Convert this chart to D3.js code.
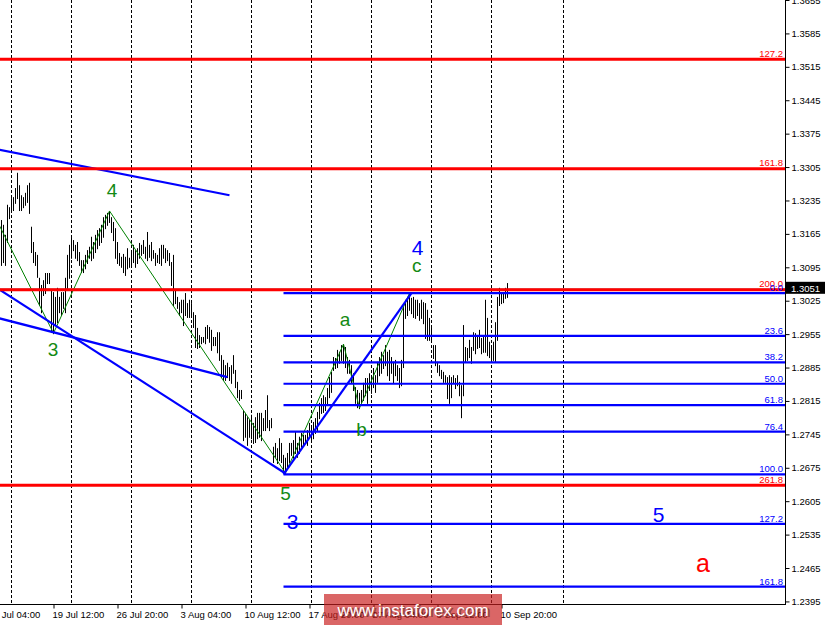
<!DOCTYPE html>
<html><head><meta charset="utf-8">
<script src="https://cdn.jsdelivr.net/npm/d3@7"></script>
<style>html,body{margin:0;padding:0;background:#fff;overflow:hidden}</style>
</head><body>
<svg id="chart" width="825" height="625"></svg>
<script>
// ---------- DATA ----------
const firstBar = -5; // bar index of first entry (bar 0 = Mon 16 Jul 00:00, H4)
const highs = [
1.3194,1.3184,1.3163,1.3226,1.3221,1.3240,1.3242,1.3261,1.3293,1.3267,
1.3246,1.3242,1.3251,1.3267,1.3272,1.3180,1.3148,1.3127,1.3121,1.3073,
1.3058,1.3068,1.3083,1.3083,1.3083,1.3047,1.3043,1.3033,1.3052,1.3033,
1.3043,1.3043,1.3073,1.3121,1.3142,1.3159,1.3152,1.3142,1.3148,1.3127,
1.3110,1.3110,1.3121,1.3131,1.3138,1.3159,1.3148,1.3163,1.3173,1.3177,
1.3184,1.3200,1.3205,1.3209,1.3213,1.3200,1.3190,1.3177,1.3148,1.3125,
1.3117,1.3123,1.3117,1.3135,1.3115,1.3127,1.3142,1.3131,1.3135,1.3146,
1.3142,1.3152,1.3138,1.3169,1.3142,1.3148,1.3131,1.3125,1.3121,1.3135,
1.3142,1.3142,1.3135,1.3131,1.3125,1.3106,1.3121,1.3047,1.3033,1.3022,
1.3027,1.3027,1.3041,1.3020,1.3027,1.3020,1.3001,1.2995,1.2968,1.2953,
1.2949,1.2949,1.2970,1.2974,1.2970,1.2964,1.2949,1.2949,1.2959,1.2959,
1.2911,1.2901,1.2890,1.2895,1.2886,1.2890,1.2911,1.2880,1.2855,1.2838,
1.2838,1.2796,1.2790,1.2781,1.2775,1.2786,1.2769,1.2781,1.2790,1.2790,
1.2790,1.2779,1.2796,1.2827,1.2775,1.2779,1.2719,1.2727,1.2716,1.2737,
1.2727,1.2702,1.2696,1.2706,1.2727,1.2727,1.2733,1.2750,1.2727,1.2740,
1.2748,1.2744,1.2744,1.2754,1.2769,1.2760,1.2771,1.2779,1.2792,1.2811,
1.2821,1.2827,1.2823,1.2842,1.2865,1.2876,1.2907,1.2905,1.2922,1.2918,
1.2932,1.2934,1.2928,1.2907,1.2901,1.2890,1.2873,1.2844,1.2838,1.2832,
1.2838,1.2853,1.2863,1.2863,1.2873,1.2869,1.2884,1.2869,1.2897,1.2907,
1.2918,1.2911,1.2932,1.2918,1.2922,1.2907,1.2897,1.2901,1.2890,1.2884,
1.2901,1.3012,1.3027,1.3033,1.3041,1.3031,1.3033,1.3027,1.3027,1.3020,
1.3027,1.3022,1.3020,1.3006,1.2989,1.2974,1.2932,1.2932,1.2897,1.2890,
1.2880,1.2876,1.2869,1.2865,1.2869,1.2865,1.2869,1.2863,1.2869,1.2855,
1.2848,1.2974,1.2928,1.2926,1.2943,1.2928,1.2959,1.2957,1.2949,1.2964,
1.2947,1.2949,1.3027,1.2989,1.2939,1.2932,1.2939,1.2980,1.3033,1.3052,
1.3041,1.3043,1.3052,1.3062
];
const lows = [
1.3100,1.3106,1.3100,1.3148,1.3198,1.3211,1.3215,1.3230,1.3240,1.3215,
1.3215,1.3221,1.3226,1.3232,1.3209,1.3127,1.3106,1.3100,1.3075,1.3016,
1.3001,1.3037,1.3041,1.3062,1.3062,1.2960,1.2957,1.2974,1.2980,1.3001,
1.2995,1.3010,1.3001,1.3052,1.3073,1.3115,1.3131,1.3115,1.3110,1.3100,
1.3085,1.3085,1.3093,1.3104,1.3115,1.3110,1.3115,1.3127,1.3135,1.3142,
1.3148,1.3159,1.3177,1.3184,1.3190,1.3169,1.3152,1.3115,1.3104,1.3100,
1.3096,1.3085,1.3079,1.3093,1.3096,1.3100,1.3106,1.3096,1.3104,1.3115,
1.3121,1.3125,1.3115,1.3110,1.3117,1.3110,1.3115,1.3100,1.3106,1.3104,
1.3100,1.3115,1.3106,1.3110,1.3100,1.3058,1.3016,1.3020,1.3010,1.2995,
1.3001,1.2974,1.2995,1.2991,1.2991,1.2991,1.2970,1.2928,1.2926,1.2928,
1.2936,1.2939,1.2936,1.2947,1.2939,1.2922,1.2932,1.2932,1.2917,1.2901,
1.2865,1.2859,1.2859,1.2865,1.2859,1.2853,1.2874,1.2844,1.2823,1.2817,
1.2821,1.2733,1.2740,1.2723,1.2740,1.2737,1.2727,1.2729,1.2737,1.2740,
1.2733,1.2754,1.2754,1.2760,1.2754,1.2760,1.2687,1.2698,1.2685,1.2691,
1.2687,1.2670,1.2664,1.2675,1.2687,1.2702,1.2696,1.2706,1.2698,1.2706,
1.2719,1.2723,1.2727,1.2723,1.2740,1.2729,1.2737,1.2748,1.2754,1.2779,
1.2790,1.2792,1.2796,1.2807,1.2823,1.2834,1.2880,1.2884,1.2886,1.2895,
1.2901,1.2895,1.2886,1.2874,1.2874,1.2853,1.2838,1.2811,1.2802,1.2800,
1.2807,1.2817,1.2827,1.2811,1.2838,1.2832,1.2844,1.2834,1.2855,1.2869,
1.2874,1.2884,1.2890,1.2869,1.2859,1.2874,1.2853,1.2869,1.2859,1.2844,
1.2848,1.2886,1.2989,1.2995,1.3006,1.2999,1.2991,1.2989,1.2995,1.2985,
1.2989,1.2978,1.2947,1.2943,1.2943,1.2939,1.2905,1.2890,1.2876,1.2869,
1.2863,1.2855,1.2855,1.2821,1.2811,1.2823,1.2853,1.2842,1.2848,1.2827,
1.2781,1.2827,1.2897,1.2901,1.2907,1.2895,1.2922,1.2915,1.2926,1.2928,
1.2915,1.2918,1.2918,1.2911,1.2907,1.2901,1.2901,1.2897,1.2943,1.3016,
1.3020,1.3022,1.3031,1.3033
];
const lastPrice = 1.3051;

const priceTicks = [1.2395,1.2465,1.2535,1.2605,1.2675,1.2745,1.2815,1.2885,1.2955,1.3025,
  1.3095,1.3165,1.3235,1.3305,1.3375,1.3445,1.3515,1.3585,1.3655];
const timeLabels = ["12 Jul 04:00","19 Jul 12:00","26 Jul 20:00","3 Aug 04:00","10 Aug 12:00",
  "17 Aug 20:00","27 Aug 04:00","3 Sep 12:00","10 Sep 20:00"];
const timeLabelBars = [-11,21,53,85,117,149,181,213,245];
const weekSeparatorBars = [0,30,60,90,120,150,180,210,240,276];

const blueFibLevels = [0.0,23.6,38.2,50.0,61.8,76.4,100.0,127.2,161.8];
const blueFibHigh = 1.3041, blueFibLow = 1.2661, blueFibStartBar = 136;
const redFibLevels = [127.2,161.8,200.0,261.8];
const redFibZero = 1.4374, redFibHundred = 1.3711;

const trendStartBars = [-6,-6,-6,136];
const trendEndBars = [109,137,108,200];
const trendStartPrices = [1.3341,1.3048,1.2988,1.2661];
const trendEndPrices = [1.3246,1.2663,1.2865,1.3041];

const zigzagBars = [-6,21,49,137,166,174,199];
const zigzagPrices = [1.3182,1.2957,1.3213,1.2664,1.2934,1.2800,1.3041];

const waveText  = ["4","3","5","a","b","c","4","3","5","a"];
const waveBars  = [50.25,20.75,137,166.75,175,202.6,203.1,140.5,323.5,345.75];
const wavePrices= [1.3242,1.2909,1.2607,1.2971,1.2742,1.3086,1.3121,1.2546,1.2562,1.2457];
const waveColors= ["#138a13","#138a13","#138a13","#138a13","#138a13","#138a13","#0000ff","#0000ff","#0000ff","#ff0000"];
const waveSizes = [19,19,19,19,19,19,21,21,21,25];

// ---------- CHART ----------
const W = 825, H = 625, plotR = 785, plotB = 604;
const svg = d3.select("#chart");
const x = d3.scaleLinear().domain([0,240]).range([11.5,491.5]);
const y = d3.scaleLinear().domain([1.23896,1.3655]).range([plotB,0]);
const font = "'Liberation Sans', Arial, sans-serif";

svg.append("rect").attr("width",W).attr("height",H).attr("fill","#fff");

const plot = svg.append("g");
plot.append("clipPath").attr("id","clip").append("rect").attr("x",0).attr("y",0).attr("width",plotR).attr("height",plotB);
const g = plot.append("g").attr("clip-path","url(#clip)");

// week separators
g.selectAll(".sep").data(weekSeparatorBars).join("line")
  .attr("x1",d=>Math.floor(x(d))+0.5).attr("x2",d=>Math.floor(x(d))+0.5)
  .attr("y1",0).attr("y2",plotB)
  .attr("stroke","#000").attr("stroke-width",1).attr("stroke-dasharray","3,2");

// current price line
g.append("line").attr("x1",0).attr("x2",plotR)
  .attr("y1",Math.round(y(lastPrice))+0.5).attr("y2",Math.round(y(lastPrice))+0.5)
  .attr("stroke","#c0c0c0").attr("stroke-width",1);

// bars
const bars = highs.map((h,k)=>({i:firstBar+k,h:h,l:lows[k]}));
g.selectAll(".bar").data(bars).join("line")
  .attr("x1",d=>x(d.i)).attr("x2",d=>x(d.i))
  .attr("y1",d=>y(d.h)).attr("y2",d=>y(d.l)+1)
  .attr("stroke","#000").attr("stroke-width",1);

// green zigzag
g.append("path")
  .attr("d",d3.line().x(d=>x(d[0])).y(d=>y(d[1]))(zigzagBars.map((b,k)=>[b,zigzagPrices[k]])))
  .attr("fill","none").attr("stroke","#008000").attr("stroke-width",1);

// blue trend lines
g.selectAll(".tl").data(trendStartBars.map((b,k)=>k)).join("line")
  .attr("x1",k=>x(trendStartBars[k])).attr("y1",k=>y(trendStartPrices[k]))
  .attr("x2",k=>x(trendEndBars[k])).attr("y2",k=>y(trendEndPrices[k]))
  .attr("stroke","#0000ff").attr("stroke-width",2.2);

// blue fib
const bluePrice = lv => blueFibHigh - lv/100*(blueFibHigh-blueFibLow);
g.selectAll(".bf").data(blueFibLevels).join("line")
  .attr("x1",x(blueFibStartBar)).attr("x2",plotR)
  .attr("y1",d=>y(bluePrice(d))).attr("y2",d=>y(bluePrice(d)))
  .attr("stroke","#0000ff").attr("stroke-width",2.2);

// red fib
const redPrice = lv => redFibZero - lv/100*(redFibZero-redFibHundred);
g.selectAll(".rf").data(redFibLevels).join("line")
  .attr("x1",0).attr("x2",plotR)
  .attr("y1",d=>y(redPrice(d))).attr("y2",d=>y(redPrice(d)))
  .attr("stroke","#ff0000").attr("stroke-width",3);

// fib labels
g.selectAll(".rfl").data(redFibLevels).join("text")
  .attr("x",783).attr("y",d=>y(redPrice(d))-2.5)
  .attr("text-anchor","end").attr("font-family",font).attr("font-size",9.5)
  .attr("fill","#ff0000").text(d=>d.toFixed(1));
g.selectAll(".bfl").data(blueFibLevels).join("text")
  .attr("x",783).attr("y",d=>y(bluePrice(d))-2)
  .attr("text-anchor","end").attr("font-family",font).attr("font-size",9.5)
  .attr("fill","#0000ff").text(d=>d.toFixed(1));

// wave labels
g.selectAll(".wl").data(waveText.map((t,k)=>k)).join("text")
  .attr("x",k=>x(waveBars[k])).attr("y",k=>y(wavePrices[k]))
  .attr("text-anchor","middle").attr("font-family",font)
  .attr("font-size",k=>waveSizes[k]).attr("fill",k=>waveColors[k])
  .text(k=>waveText[k]);

// axes
const yAxis = d3.axisRight(y).tickValues(priceTicks).tickSize(4).tickPadding(2)
  .tickFormat(d3.format(".4f"));
const ya = svg.append("g").attr("transform",`translate(${plotR+0.5},0)`).call(yAxis);
ya.select(".domain").remove();
ya.selectAll("text").attr("font-family",font).attr("font-size",9.5).attr("fill","#000");
ya.selectAll("line").attr("stroke","#000");

const xAxis = d3.axisBottom(x).tickValues(timeLabelBars).tickSize(4).tickPadding(3)
  .tickFormat((d,k)=>timeLabels[k]);
const xa = svg.append("g").attr("transform",`translate(0,${plotB+0.5})`).call(xAxis);
xa.select(".domain").remove();
xa.selectAll("text").attr("font-family",font).attr("font-size",9.5).attr("fill","#000")
  .attr("text-anchor","start").attr("x",-1.5);
xa.selectAll("line").attr("stroke","#000");

svg.append("line").attr("x1",plotR+0.5).attr("x2",plotR+0.5).attr("y1",0).attr("y2",plotB+1)
  .attr("stroke","#000");
svg.append("line").attr("x1",0).attr("x2",plotR+1).attr("y1",plotB+0.5).attr("y2",plotB+0.5)
  .attr("stroke","#000");

// current price box
const py = y(lastPrice);
svg.append("rect").attr("x",plotR+1).attr("y",py-6.5).attr("width",W-plotR).attr("height",12).attr("fill","#000");
svg.append("text").attr("x",plotR+6).attr("y",py+3.5).attr("font-family",font).attr("font-size",9.5)
  .attr("fill","#fff").text(lastPrice.toFixed(4));

// watermark
svg.append("rect").attr("x",324).attr("y",594).attr("width",178).attr("height",31)
  .attr("fill","rgba(200,30,30,0.68)");
svg.append("text").attr("x",414).attr("y",616).attr("text-anchor","middle")
  .attr("font-family",font).attr("font-size",17).attr("fill","#000").attr("opacity",0.35)
  .attr("dx",1).attr("dy",1).text("www.instaforex.com");
svg.append("text").attr("x",413).attr("y",615.5).attr("text-anchor","middle")
  .attr("font-family",font).attr("font-size",17).attr("fill","#fff").text("www.instaforex.com");
</script>
</body></html>
